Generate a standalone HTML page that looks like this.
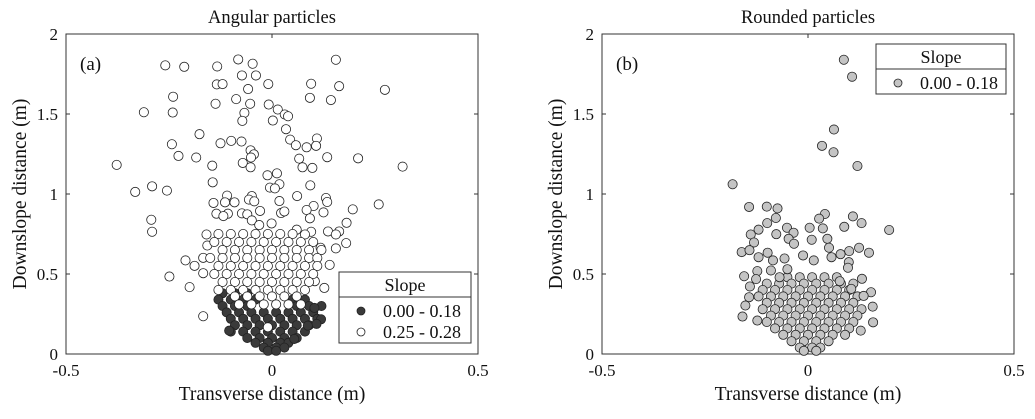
<!DOCTYPE html>
<html><head><meta charset="utf-8"><style>
body{margin:0;background:#fff;}
svg text{font-family:"Liberation Serif",serif;fill:#111;}
</style></head><body>
<svg id="chart" width="1035" height="414" viewBox="0 0 1035 414" xmlns="http://www.w3.org/2000/svg"></svg>
<script>
const xTicks=[-0.5,0,0.5];
const xTickLabels=["-0.5","0","0.5"];
const yTicks=[0,0.5,1,1.5,2];
const yTickLabels=["0","0.5","1","1.5","2"];
const whiteSparse=[[-0.259,1.804],[-0.213,1.795],[-0.133,1.797],[-0.082,1.841],[-0.047,1.814],[0.155,1.839],[-0.073,1.741],[-0.039,1.741],[-0.134,1.685],[-0.12,1.687],[-0.009,1.687],[0.095,1.689],[0.163,1.674],[-0.058,1.656],[0.274,1.651],[-0.24,1.608],[-0.087,1.593],[-0.137,1.564],[-0.053,1.564],[-0.008,1.559],[0.092,1.601],[0.143,1.587],[-0.311,1.511],[-0.241,1.509],[-0.067,1.507],[0.014,1.528],[0.031,1.497],[0.039,1.486],[-0.072,1.457],[0.002,1.459],[0.034,1.405],[-0.176,1.374],[-0.243,1.311],[-0.125,1.317],[-0.099,1.332],[-0.074,1.328],[0.044,1.34],[0.058,1.305],[0.084,1.292],[0.109,1.347],[0.107,1.301],[-0.052,1.273],[-0.044,1.248],[-0.051,1.228],[-0.227,1.238],[-0.184,1.228],[-0.377,1.182],[-0.145,1.177],[-0.071,1.194],[-0.052,1.167],[0.066,1.221],[0.074,1.167],[0.098,1.163],[0.134,1.23],[0.209,1.223],[0.317,1.171],[-0.011,1.117],[0.012,1.129],[-0.144,1.073],[-0.291,1.048],[-0.332,1.013],[-0.255,1.021],[-0.005,1.04],[0.018,1.061],[0.007,1.035],[0.093,1.054],[0.061,0.987],[-0.049,0.987],[-0.056,0.965],[-0.109,0.99],[-0.142,0.944],[-0.114,0.948],[-0.091,0.948],[-0.043,0.954],[0.018,0.956],[0.131,0.975],[0.134,0.95],[0.101,0.925],[0.196,0.904],[0.259,0.935],[0.084,0.9],[0.125,0.885],[-0.029,0.894],[-0.135,0.877],[-0.107,0.877],[-0.118,0.862],[-0.073,0.879],[-0.06,0.873],[0.022,0.881],[0.03,0.891],[0.092,0.848],[-0.293,0.839],[-0.291,0.764],[-0.049,0.835],[-0.031,0.806],[-0.001,0.816],[0.181,0.82],[0.06,0.777],[0.136,0.766],[0.163,0.766],[0.155,0.747],[0.095,0.764],[0.08,0.747],[0.18,0.693],[0.155,0.66],[0.118,0.664],[-0.249,0.484],[-0.2,0.418],[-0.167,0.236],[-0.21,0.585],[-0.188,0.551],[-0.167,0.601],[-0.167,0.505],[-0.159,0.747],[-0.157,0.678],[0.14,0.557],[0.127,0.413],[0.104,0.455],[-0.01,0.167]];
const whiteRowY=[0.75,0.70,0.65,0.60,0.55,0.50,0.45,0.40,0.36,0.31];
const whiteRowX=[[-0.13,-0.10,-0.07,-0.04,-0.01,0.02,0.05],[-0.14,-0.11,-0.08,-0.05,-0.02,0.01,0.04,0.07,0.10],[-0.12,-0.09,-0.06,-0.03,0.00,0.03,0.06,0.09,0.12],[-0.15,-0.12,-0.09,-0.06,-0.03,0.00,0.03,0.06,0.09,0.11],[-0.13,-0.10,-0.07,-0.04,-0.01,0.02,0.05,0.08,0.11],[-0.14,-0.11,-0.08,-0.05,-0.02,0.01,0.04,0.07,0.10],[-0.12,-0.09,-0.06,-0.03,0.00,0.03,0.06,0.09],[-0.13,-0.10,-0.07,-0.04,-0.01,0.02,0.05,0.08],[-0.09,-0.06,-0.03,0.00,0.03,0.06],[-0.08,-0.05,-0.02,0.01,0.04,0.07]];
const darkRowY=[0.38,0.34,0.30,0.26,0.22,0.18,0.14,0.10,0.07,0.04,0.02];
const darkRowX=[[-0.12,-0.09,-0.06],[-0.13,-0.10,-0.07,-0.04,0.05,0.08],[-0.12,-0.09,-0.06,0.06,0.09,0.12],[-0.11,-0.08,-0.05,-0.02,0.01,0.04,0.07,0.10],[-0.10,-0.07,-0.04,-0.01,0.02,0.05,0.08,0.11],[-0.09,-0.06,-0.03,0.00,0.03,0.06,0.09],[-0.10,-0.07,-0.04,-0.01,0.02,0.05,0.08],[-0.06,-0.03,0.00,0.03,0.06],[-0.04,-0.01,0.02,0.04],[-0.02,0.01,0.03],[-0.01,0.01]];
const darkSparse=[[-0.104,0.146],[0.103,0.288],[0.119,0.217],[0.108,0.188],[0.054,0.094],[0.087,0.177]];
const greySparse=[[0.087,1.839],[0.107,1.733],[0.063,1.403],[0.034,1.301],[0.062,1.261],[0.12,1.175],[-0.183,1.061],[-0.143,0.919],[-0.1,0.921],[-0.074,0.91],[0.041,0.875],[0.027,0.846],[0.109,0.86],[0.13,0.818],[-0.099,0.818],[-0.078,0.85],[0.088,0.795],[0.197,0.775],[-0.12,0.777],[-0.051,0.789],[-0.035,0.758],[0.004,0.789],[0.036,0.785],[-0.139,0.747],[-0.077,0.749],[-0.047,0.72],[-0.034,0.689],[0.009,0.714],[0.047,0.72],[-0.131,0.697],[-0.161,0.637],[-0.142,0.649],[-0.098,0.633],[-0.012,0.616],[0.051,0.664],[0.1,0.643],[0.124,0.664],[0.148,0.633],[-0.12,0.605],[-0.085,0.585],[-0.057,0.597],[0.014,0.585],[0.057,0.605],[0.079,0.624],[0.099,0.574],[-0.123,0.518],[-0.09,0.522],[-0.05,0.53],[-0.155,0.486],[-0.126,0.468],[-0.069,0.48],[0.097,0.539],[0.131,0.47],[0.077,0.455],[0.105,0.407],[0.153,0.386],[0.135,0.363],[0.157,0.296],[0.128,0.146],[0.158,0.198],[-0.159,0.234],[-0.123,0.209],[-0.152,0.303],[-0.143,0.355],[-0.141,0.422]];
const greyRowY=[0.48,0.44,0.40,0.36,0.32,0.28,0.24,0.20,0.16,0.12,0.08,0.04,0.02];
const greyRowX=[[-0.05,-0.02,0.01,0.04,0.07],[-0.10,-0.07,-0.04,-0.01,0.02,0.05,0.08,0.11],[-0.11,-0.08,-0.05,-0.02,0.01,0.04,0.07,0.10],[-0.12,-0.09,-0.06,-0.03,0.00,0.03,0.06,0.09,0.12],[-0.10,-0.07,-0.04,-0.01,0.02,0.05,0.08,0.11],[-0.11,-0.08,-0.05,-0.02,0.01,0.04,0.07,0.10,0.13],[-0.09,-0.06,-0.03,0.00,0.03,0.06,0.09,0.12],[-0.10,-0.07,-0.04,-0.01,0.02,0.05,0.08,0.11],[-0.08,-0.05,-0.02,0.01,0.04,0.07,0.10],[-0.06,-0.03,0.00,0.03,0.06,0.09],[-0.04,-0.01,0.02,0.05],[-0.02,0.01,0.03],[-0.01,0.02]];

const NS="http://www.w3.org/2000/svg";
const svg=document.getElementById('chart');
function mk(tag,attrs,parent){const e=document.createElementNS(NS,tag);for(const k in attrs)e.setAttribute(k,attrs[k]);(parent||svg).appendChild(e);return e;}
function rows(ys,xs){const out=[];ys.forEach((y,i)=>xs[i].forEach(x=>out.push([x,y])));return out;}

function panel(left,right,top,bottom,title,letter,yLabel){
  const sx=v=>left+(v+0.5)*(right-left);
  const sy=v=>bottom-v/2*(bottom-top);
  const g=mk('g',{});
  
  
  const t=mk('text',{x:(left+right)/2,y:23,'text-anchor':'middle','font-size':18.5},g);t.textContent=title;
  
  
  const r=mk('rect',{x:left,y:top,width:right-left,height:bottom-top,fill:'none',stroke:'#333','stroke-width':1},g);
  
  
  xTicks.forEach((v,i)=>{const x=sx(v);
    mk('line',{x1:x,x2:x,y1:bottom,y2:bottom-4,stroke:'#333'},g);mk('line',{x1:x,x2:x,y1:top,y2:top+4,stroke:'#333'},g);
    const l=mk('text',{x:x,y:bottom+22,'text-anchor':'middle','font-size':17},g);l.textContent=xTickLabels[i];
    
    });
  yTicks.forEach((v,i)=>{const y=sy(v);
    mk('line',{x1:left,x2:left+4,y1:y,y2:y,stroke:'#333'},g);mk('line',{x1:right,x2:right-4,y1:y,y2:y,stroke:'#333'},g);
    const l=mk('text',{x:left-8,y:y+6,'text-anchor':'end','font-size':17},g);l.textContent=yTickLabels[i];
    
    });
  const xl=mk('text',{x:(left+right)/2,y:400,'text-anchor':'middle','font-size':19.5},g);xl.textContent='Transverse distance (m)';
  
  
  const yl=mk('text',{x:0,y:0,'text-anchor':'middle','font-size':19.5,transform:`translate(${left-40},${(top+bottom)/2}) rotate(-90)`},g);yl.textContent=yLabel;
  
  
  const lt=mk('text',{x:left+14,y:top+36,'font-size':19},g);lt.textContent=letter;
  
  
  return {sx,sy,g};
}
function pts(p,data,fill,name){data.forEach(d=>{const c=mk('circle',{cx:p.sx(d[0]),cy:p.sy(d[1]),r:4.6,fill:fill,stroke:'#222','stroke-width':0.8},p.g);
  
  });}

const A=panel(66,478,34,354,'Angular particles','(a)','Downslope distance (m)');
pts(A,rows(darkRowY,darkRowX).concat(darkSparse),'#3a3a3a','point-slope-low');
pts(A,whiteSparse.concat(rows(whiteRowY,whiteRowX)),'#ffffff','point-slope-high');
const B=panel(602,1014,34,354,'Rounded particles','(b)','Downslope distance (m)');
pts(B,rows(greyRowY,greyRowX).concat(greySparse),'#c4c4c4','point-rounded');

function legend(p,x,y,w,h,div,entries){
  const g=mk('g',{},p.g);
  
  
  mk('rect',{x:x,y:y,width:w,height:h,fill:'#fff',stroke:'#333'},g);
  mk('line',{x1:x,x2:x+w,y1:div,y2:div,stroke:'#333'},g);
  const t=mk('text',{x:x+w/2,y:div-6,'text-anchor':'middle','font-size':18},g);t.textContent='Slope';
  
  
  entries.forEach((e,i)=>{const cy=div+14+i*21;
    mk('circle',{cx:x+22,cy:cy,r:4,fill:e[0],stroke:'#222','stroke-width':0.8},g);
    const l=mk('text',{x:x+44,y:cy+6,'font-size':18},g);l.textContent=e[1];
    
    });
}
legend(A,339,272,132,71,297,[['#3a3a3a','0.00 - 0.18'],['#ffffff','0.25 - 0.28']]);
legend(B,876,44,130,50,69,[['#c4c4c4','0.00 - 0.18']]);
</script>
</body></html>
